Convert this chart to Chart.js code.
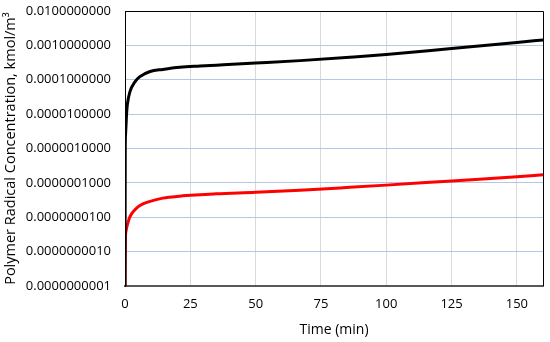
<!DOCTYPE html>
<html>
<head>
<meta charset="utf-8">
<script src="https://cdn.jsdelivr.net/npm/chart.js@4"></script>
<style>
  html, body { margin: 0; padding: 0; background: #fff; }
  #wrap { width: 550px; height: 342px; }
</style>
</head>
<body>
<div id="wrap"><canvas id="radicalChart"></canvas></div>
<script>
// time in minutes, shared by both curves
const times = [0, 0.1, 0.2, 0.4, 0.6, 0.9, 1.9, 3.8, 5.7, 9.6, 14.5, 21, 28.7, 35, 50, 67, 86, 100, 125, 150, 160];
const upperConc = [1e-10, 1e-6, 2.5e-6, 4.9e-6, 1e-5, 1.9e-5, 4.5e-5, 8.7e-5, 1.23e-4, 1.74e-4, 2.0e-4, 2.3e-4, 2.5e-4, 2.65e-4, 3.05e-4, 3.6e-4, 4.5e-4, 5.4e-4, 8.1e-4, 1.22e-3, 1.44e-3];
const lowerConc = [1e-10, 1e-9, 3e-9, 4e-9, 4.9e-9, 6e-9, 1.04e-8, 1.65e-8, 2.2e-8, 2.9e-8, 3.6e-8, 4.1e-8, 4.5e-8, 4.8e-8, 5.3e-8, 6.1e-8, 7.4e-8, 8.6e-8, 1.14e-7, 1.5e-7, 1.72e-7];
const xTicks = [0, 25, 50, 75, 100, 125, 150];
const yTicks = [1e-10, 1e-9, 1e-8, 1e-7, 1e-6, 1e-5, 1e-4, 1e-3, 1e-2];

const FONT = '"Open Sans", sans-serif';

const toPoints = (xs, ys) => xs.map((x, i) => ({ x: x, y: ys[i] }));

// top and right edges of the plot frame
const frameLines = {
  id: 'frameLines',
  afterDraw(chart) {
    const { ctx, chartArea: a } = chart;
    ctx.save();
    ctx.strokeStyle = '#000';
    ctx.lineWidth = 1;
    ctx.beginPath();
    ctx.moveTo(a.left, a.top + 0.5);
    ctx.lineTo(a.right + 0.5, a.top + 0.5);
    ctx.lineTo(a.right + 0.5, a.bottom);
    ctx.stroke();
    ctx.restore();
  }
};

new Chart(document.getElementById('radicalChart').getContext('2d'), {
  type: 'line',
  data: {
    datasets: [
      {
        data: toPoints(times, upperConc),
        borderColor: '#000000',
        borderWidth: 3,
        pointRadius: 0,
        cubicInterpolationMode: 'monotone'
      },
      {
        data: toPoints(times, lowerConc),
        borderColor: '#ff0000',
        borderWidth: 3,
        pointRadius: 0,
        cubicInterpolationMode: 'monotone'
      }
    ]
  },
  options: {
    responsive: true,
    maintainAspectRatio: false,
    animation: false,
    layout: { padding: { top: 11, right: 7, left: 0, bottom: 0 } },
    plugins: {
      legend: { display: false },
      tooltip: { enabled: false }
    },
    scales: {
      x: {
        type: 'linear',
        min: 0,
        max: 160,
        afterBuildTicks: scale => { scale.ticks = xTicks.map(v => ({ value: v })); },
        afterFit: scale => { scale.height = 56; scale.paddingLeft = 0; scale.paddingRight = 0; },
        grid: { color: '#d9d9d9', lineWidth: 1, drawTicks: false },
        border: { color: '#595959', width: 2 },
        ticks: {
          color: '#000',
          padding: 10,
          maxRotation: 0,
          font: { family: FONT, size: 13 }
        },
        title: {
          display: true,
          text: 'Time (min)',
          color: '#000',
          padding: { top: 2 },
          font: { family: FONT, size: 14 }
        }
      },
      y: {
        type: 'logarithmic',
        min: 1e-10,
        max: 1e-2,
        afterBuildTicks: scale => { scale.ticks = yTicks.map(v => ({ value: v, major: true })); },
        afterFit: scale => { scale.width = 125; scale.paddingTop = 0; scale.paddingBottom = 0; },
        grid: { color: '#b4c7e7', lineWidth: 1, drawTicks: false },
        border: { color: '#000', width: 1 },
        ticks: {
          color: '#000',
          padding: 14,
          autoSkip: false,
          font: { family: FONT, size: 13 },
          callback: v => Number(v).toFixed(10)
        },
        title: {
          display: true,
          text: 'Polymer Radical Concentration, kmol/m³',
          color: '#000',
          padding: { top: 2, bottom: 0 },
          font: { family: FONT, size: 14.5 }
        }
      }
    }
  },
  plugins: [frameLines]
});
</script>
</body>
</html>
